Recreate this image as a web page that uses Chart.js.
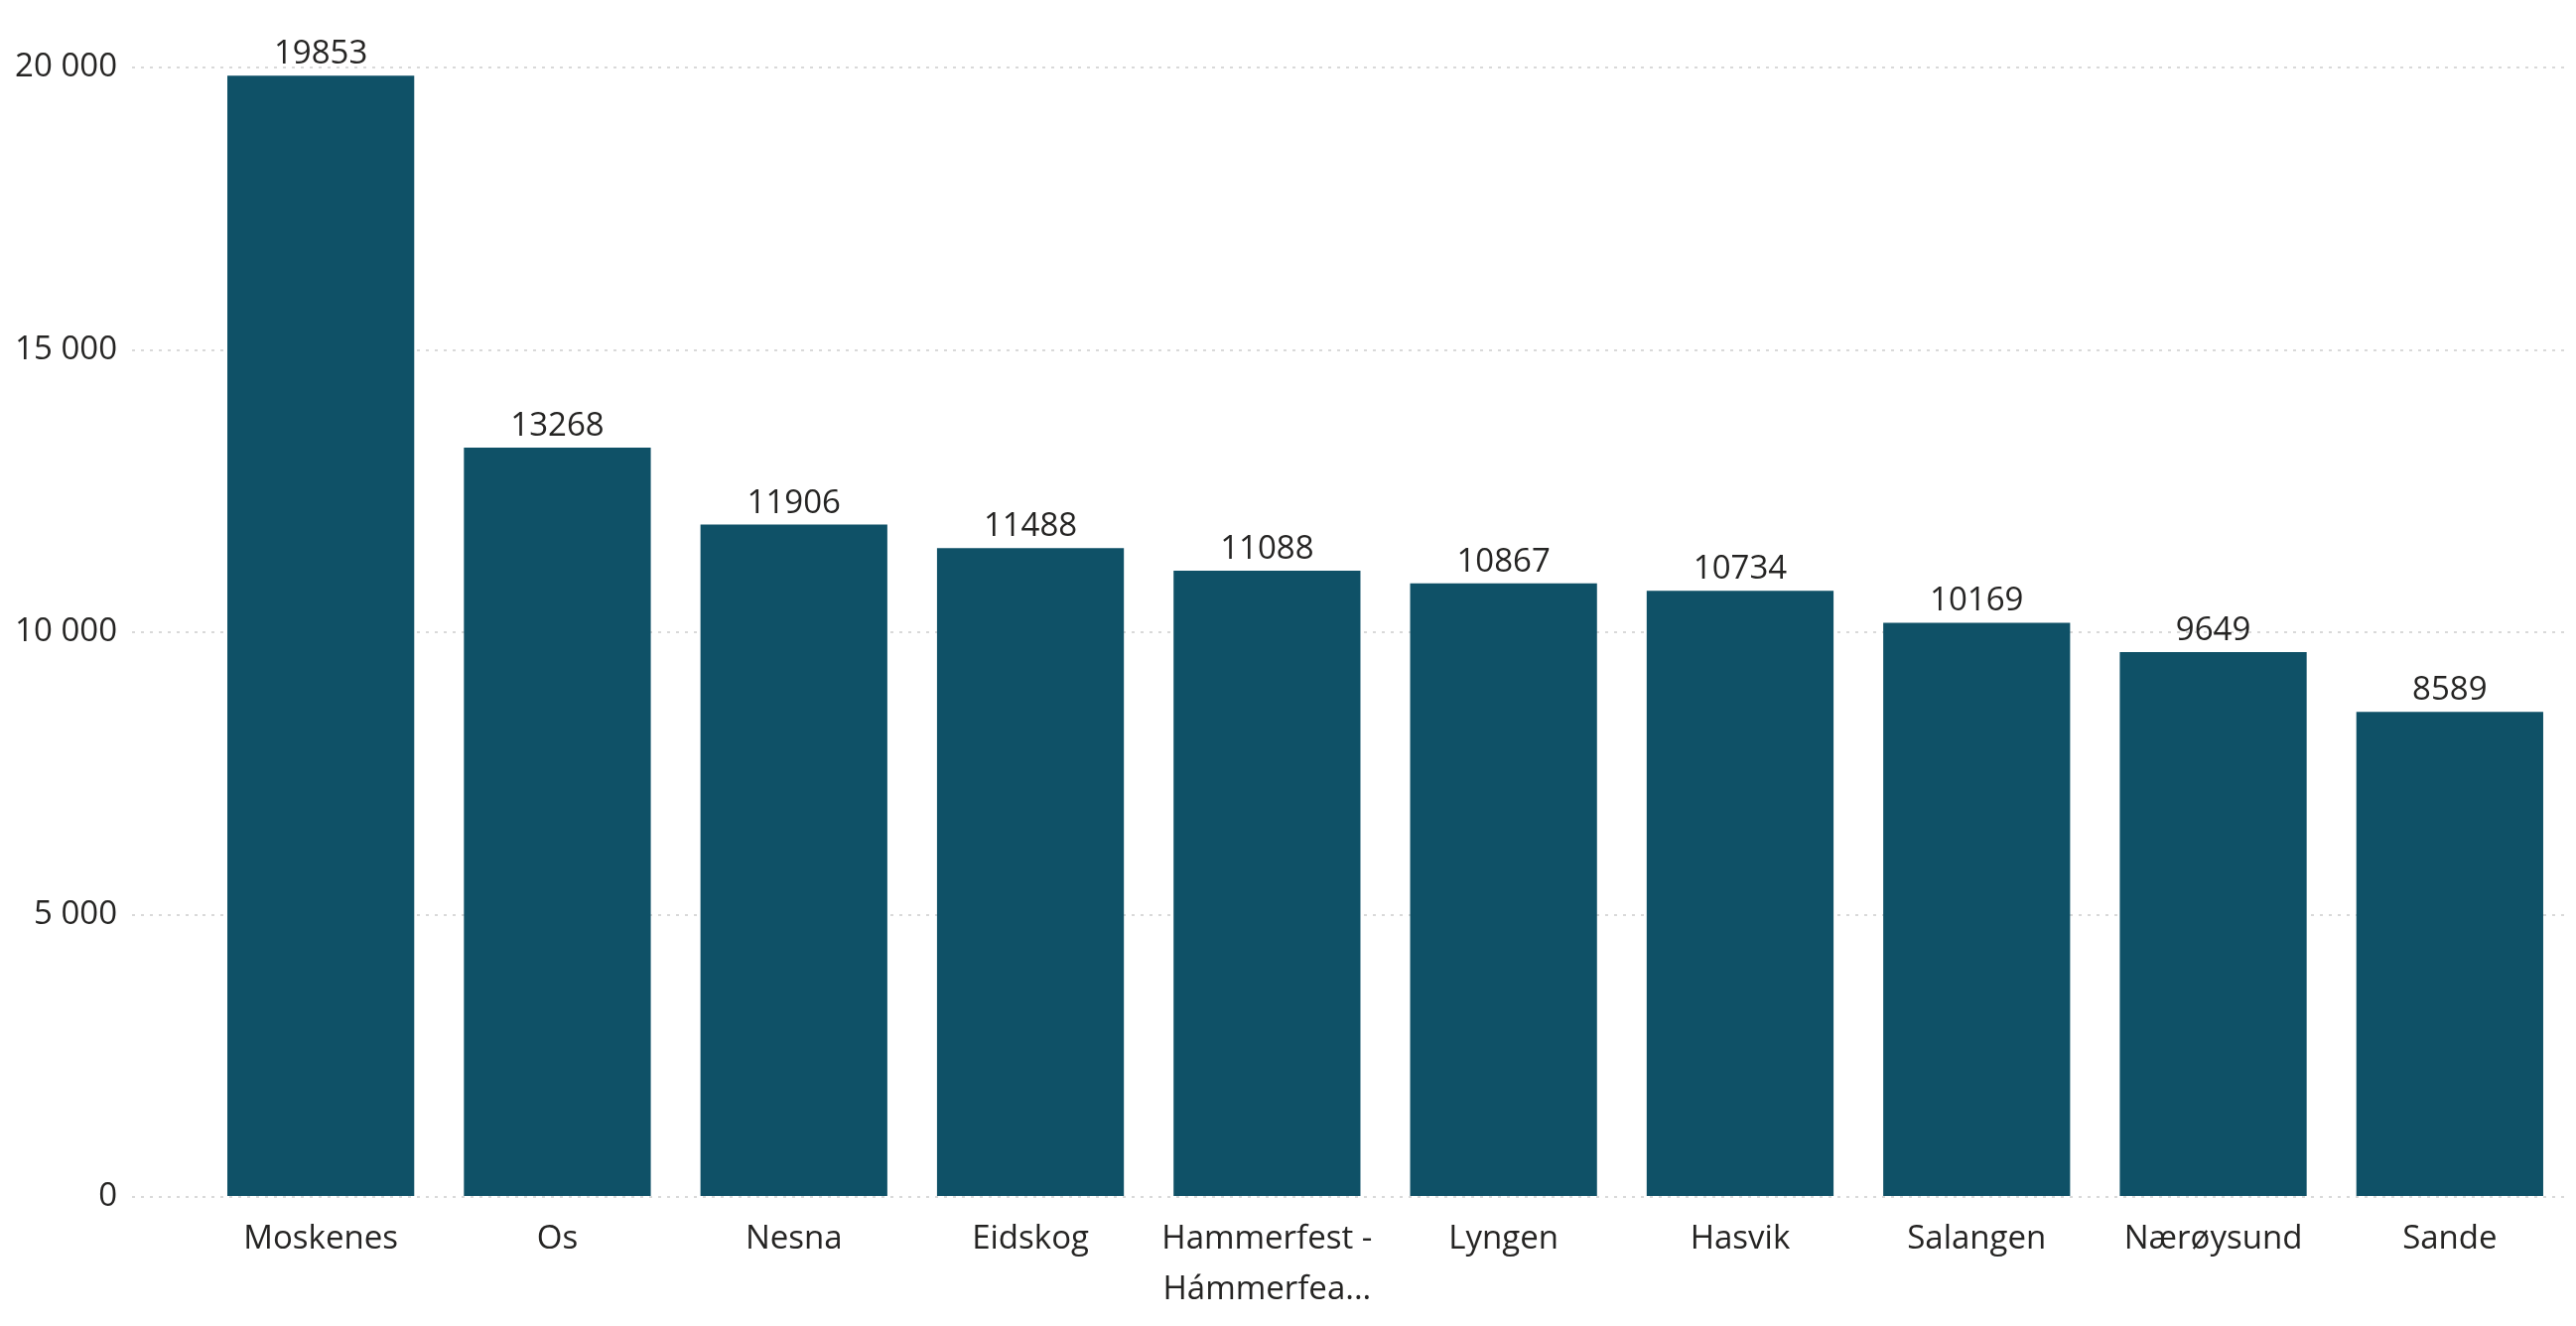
<!DOCTYPE html>
<html>
<head>
<meta charset="utf-8">
<script src="https://cdn.jsdelivr.net/npm/chart.js@4/dist/chart.umd.min.js"></script>
<style>
  html, body { margin: 0; padding: 0; background: #fff; }
  canvas { display: block; }
</style>
</head>
<body>
<canvas id="chart" width="2595" height="1336"></canvas>
<script>
// data
const kommuner = ["Moskenes", "Os", "Nesna", "Eidskog", ["Hammerfest -", "Hámmerfea..."], "Lyngen", "Hasvik", "Salangen", "Nærøysund", "Sande"];
const verdier = [19853, 13268, 11906, 11488, 11088, 10867, 10734, 10169, 9649, 8589];
const yTicks = [0, 5000, 10000, 15000, 20000];

const barColor = "#0f5167";
const textColor = "#252423";
const gridColor = "#d9d9d9";
const fontFamily = "'Open Sans', 'Noto Sans', sans-serif";

function mellomrom(v) {
  return String(v).replace(/\B(?=(\d{3})+(?!\d))/g, " ");
}

// tall over hver søyle
const verdiEtiketter = {
  id: "verdiEtiketter",
  afterDatasetsDraw(chart) {
    const ctx = chart.ctx;
    const meta = chart.getDatasetMeta(0);
    ctx.save();
    ctx.font = "33px " + fontFamily;
    ctx.fillStyle = textColor;
    ctx.textAlign = "center";
    ctx.textBaseline = "alphabetic";
    meta.data.forEach((bar, i) => {
      ctx.fillText(String(verdier[i]), bar.x, bar.y - 12);
    });
    ctx.restore();
  }
};

new Chart(document.getElementById("chart"), {
  type: "bar",
  data: {
    labels: kommuner,
    datasets: [
      {
        data: verdier,
        backgroundColor: barColor,
        borderWidth: 0,
        barPercentage: 0.79,
        categoryPercentage: 1
      }
    ]
  },
  options: {
    responsive: false,
    animation: false,
    layout: { padding: { top: 68, right: 8, left: 0, bottom: 0 } },
    plugins: {
      legend: { display: false },
      tooltip: { enabled: false }
    },
    scales: {
      x: {
        grid: { display: false },
        border: { display: false },
        ticks: {
          color: textColor,
          padding: 10,
          maxRotation: 0,
          autoSkip: false,
          font: { family: fontFamily, size: 33, lineHeight: 1.52 }
        },
        afterFit(s) { s.height = 130; }
      },
      y: {
        min: 0,
        max: 20000,
        afterBuildTicks(s) { s.ticks = yTicks.map(v => ({ value: v })); },
        grid: {
          color: gridColor,
          lineWidth: 2,
          tickLength: 71,
          tickBorderDash: [3, 6],
          tickColor: gridColor
        },
        border: { display: false, dash: [3, 6] },
        ticks: {
          color: textColor,
          padding: 15,
          font: { family: fontFamily, size: 33 },
          callback: v => mellomrom(v)
        },
        afterFit(s) { s.width = 204; }
      }
    }
  },
  plugins: [verdiEtiketter]
});
</script>
</body>
</html>
